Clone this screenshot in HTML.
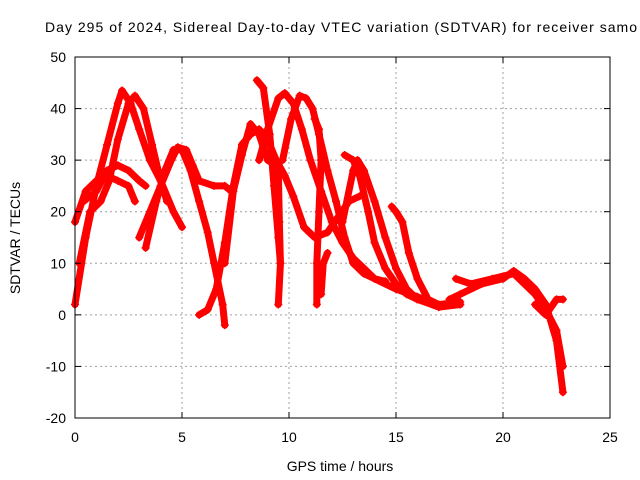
<!DOCTYPE html>
<html><head><meta charset="utf-8"><style>
body{margin:0;background:#fff}
svg{display:block;font-family:"Liberation Sans",sans-serif}
</style></head><body>
<svg id="chart" width="640" height="480">
<rect width="640" height="480" fill="#fff"/>
<text x="45" y="32" font-size="14" textLength="592" lengthAdjust="spacing">Day 295 of 2024, Sidereal Day-to-day VTEC variation (SDTVAR) for receiver samo</text>
<g id="grid"></g>
<g id="series"></g>
<rect x="75" y="57" width="535" height="361" fill="none" stroke="#000" stroke-width="1"/>
<g id="ticks"></g>
<text x="340" y="471" font-size="14" text-anchor="middle">GPS time / hours</text>
<text x="20" y="238" font-size="14" text-anchor="middle" transform="rotate(-90 20 238)">SDTVAR / TECUs</text>
</svg>
<script>
const xTicks=[0,5,10,15,20,25];
const yTicks=[-20,-10,0,10,20,30,40,50];
const s1=[[0,2],[0.5,15],[1,25],[1.5,33],[2,41],[2.2,43.5],[2.6,41],[3,36],[3.5,30],[4,26],[4.6,20],[5,17]];
const s2=[[0.2,10],[0.7,20],[1.2,22],[1.6,26],[2,34],[2.5,41],[2.8,42.5],[3.2,40],[3.6,33],[4,26],[4.3,22]];
const s3=[[0,18],[0.5,24],[1,26],[1.5,27],[2,26],[2.5,25],[2.8,22]];
const s4=[[0.4,22],[1,24],[1.5,28],[2,29],[2.5,28],[3,26],[3.3,25]];
const s5=[[3,15],[3.5,20],[4,25],[4.5,30],[4.8,32.5],[5.2,32],[5.5,29],[5.8,26],[6.5,25],[7,25],[7.3,24]];
const s6=[[3.3,13],[3.8,22],[4.2,28],[4.6,32],[5,32],[5.4,28],[5.8,22],[6.2,16],[6.5,10],[6.9,2],[7,-2]];
const s7=[[5.8,0],[6.2,1],[6.6,5],[7,14],[7.4,25],[7.8,33],[8.2,35],[8.6,36],[9,34],[9.4,30],[9.8,27],[10.2,23],[10.7,17],[11.2,15],[11.8,16],[12.3,19],[12.8,22],[13.3,23]];
const s8=[[7,10],[7.4,24],[7.8,31],[8.2,37],[8.6,35],[9,30],[9.4,29]];
const s9=[[8.5,45.5],[8.8,44],[9.1,35],[9.3,25],[9.5,15],[9.6,10]];
const s10=[[8.6,30],[9,36],[9.5,42],[9.8,43],[10.2,41],[10.6,36],[11,30],[11.5,24],[12,18],[12.5,14],[13,11],[13.5,9],[14,7],[14.5,6.5]];
const s11=[[9.7,30],[10.1,38],[10.5,42.5],[10.8,42],[11.1,40],[11.4,35],[11.8,28],[12.2,22],[12.6,15],[13,10],[13.5,8],[14,7],[15,5],[16,3.5],[17,2]];
const s12=[[11.2,38],[11.4,36],[11.5,30],[11.4,20],[11.3,10],[11.3,2]];
const s13=[[9.5,28],[9.55,18],[9.6,10],[9.5,2]];
const s14=[[11.5,4],[11.6,10],[11.8,12]];
const s15=[[12.6,31],[13,30],[13.3,27],[13.7,20],[14,14],[14.5,9],[15,6],[15.5,4],[16,3],[17,2],[18,2]];
const s16=[[12.5,18],[13,28],[13.2,30],[13.5,28],[14,22],[14.5,15],[15,9],[15.5,5],[16,3],[17,1.5],[18,2]];
const s17=[[14.8,21],[15,20],[15.3,18],[15.6,12],[16,7],[16.5,3],[17,2],[18,2.5]];
const s18=[[17.5,3],[18,4],[19,6],[20,7],[20.5,8.5],[21,7],[21.5,5],[22,2],[22.5,-5],[22.8,-15]];
const s19=[[17.8,7],[18.5,6],[19.5,7],[20.5,8],[21,6],[21.5,4],[22,1],[22.5,-3],[22.8,-10]];
const s20=[[21.5,2],[22,0],[22.5,3],[22.8,3]];
const allSeries=[s1,s2,s3,s4,s5,s6,s7,s8,s9,s10,s11,s12,s13,s14,s15,s16,s17,s18,s19,s20];

const NS="http://www.w3.org/2000/svg";
const X=v=>75+(v-0)/25*535;
const Y=v=>418-(v+20)/70*361;
const grid=document.getElementById('grid'),ticks=document.getElementById('ticks'),ser=document.getElementById('series');
function mk(tag,attrs,parent){const e=document.createElementNS(NS,tag);for(const k in attrs)e.setAttribute(k,attrs[k]);parent.appendChild(e);return e;}
xTicks.forEach(t=>{
  if(t>0&&t<25){const g=mk('line',{x1:X(t),x2:X(t),y1:57,y2:418,stroke:'#a0a0a0','stroke-dasharray':'2,3'},grid);
  
  }
  mk('line',{x1:X(t),x2:X(t),y1:418,y2:412,stroke:'#000'},ticks);
  mk('line',{x1:X(t),x2:X(t),y1:57,y2:63,stroke:'#000'},ticks);
  const l=mk('text',{x:X(t),y:442,'font-size':14,'text-anchor':'middle'},ticks);l.textContent=t;
  
  
});
yTicks.forEach(t=>{
  if(t>-20&&t<50){const g=mk('line',{x1:75,x2:610,y1:Y(t),y2:Y(t),stroke:'#a0a0a0','stroke-dasharray':'2,3'},grid);
  
  }
  mk('line',{x1:75,x2:81,y1:Y(t),y2:Y(t),stroke:'#000'},ticks);
  mk('line',{x1:610,x2:604,y1:Y(t),y2:Y(t),stroke:'#000'},ticks);
  const l=mk('text',{x:66,y:Y(t)+5,'font-size':14,'text-anchor':'end'},ticks);l.textContent=t;
  
  
});
allSeries.forEach((s,i)=>{
  const p=mk('polyline',{points:s.map(d=>X(d[0])+','+Y(d[1])).join(' '),fill:'none',stroke:'#f00','stroke-width':7,'stroke-linejoin':'round','stroke-linecap':'round'},ser);
  
  
  s.forEach(d=>{
    const m=mk('path',{d:`M${X(d[0])-4},${Y(d[1])}h8M${X(d[0])},${Y(d[1])-4}v8`,stroke:'#f00','stroke-width':1.5},ser);
    
    
  });
});
</script>
</body></html>
